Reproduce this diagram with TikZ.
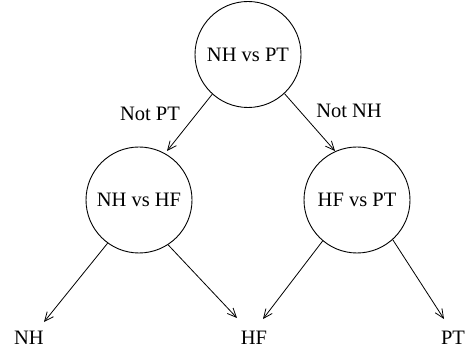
\documentclass[tikz,border=0pt]{standalone}
\usepackage{fontspec}
\setmainfont{Liberation Serif}
\usetikzlibrary{arrows.meta}
\begin{document}
\begin{tikzpicture}[x=1pt,y=-1pt,
  every node/.style={font=\fontsize{20.5}{24}\selectfont},
  test/.style={draw,circle,minimum size=106pt,inner sep=0pt,line width=0.9pt},
  leaf/.style={inner sep=1pt},
  lbl/.style={inner sep=0pt},
  arr/.style={line width=0.8pt,-{Straight Barb[length=9pt,width=8pt]}}]
\useasboundingbox (0,0) rectangle (470,352);
\node[test] (T) at (248,54.5) {NH vs PT};
\node[test] (L) at (139,200) {NH vs HF};
\node[test] (R) at (357,200) {HF vs PT};
\node[leaf] (NH) at (29,338) {NH};
\node[leaf] (HF) at (254,338) {HF};
\node[leaf] (PT) at (453,338) {PT};
\node[lbl] (l1) at (150,114) {Not PT};
\node[lbl] (l2) at (349,111) {Not NH};
\coordinate (tL) at (167,151);
\coordinate (tR) at (335,151);
\coordinate (tNH) at (44,322);
\coordinate (tHF1) at (237,318);
\coordinate (tHF2) at (263,319);
\coordinate (tPT) at (444,319);
\draw[arr] (T.228) -- (tL);
\draw[arr] (T.313.5) -- (tR);
\draw[arr] (L.234) -- (tNH);
\draw[arr] (L.303.4) -- (tHF1);
\draw[arr] (R.230.5) -- (tHF2);
\draw[arr] (R.312.8) -- (tPT);
\end{tikzpicture}
\end{document}
